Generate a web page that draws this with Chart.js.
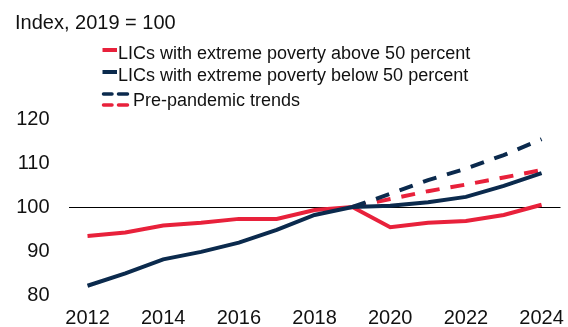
<!DOCTYPE html>
<html>
<head>
<meta charset="utf-8">
<script src="https://cdn.jsdelivr.net/npm/chart.js@4.4.1/dist/chart.umd.min.js"></script>
<style>
  html, body { margin: 0; padding: 0; background: #fff; }
  #wrap { position: relative; width: 568px; height: 327px; }
</style>
</head>
<body>
<div id="wrap"><canvas id="grafico"></canvas></div>
<script>
const anos = ['2012', '2013', '2014', '2015', '2016', '2017', '2018', '2019', '2020', '2021', '2022', '2023', '2024'];

// extreme poverty above 50 percent
const acima50 = [93.4, 94.2, 95.8, 96.4, 97.3, 97.3, 99.3, 100, 95.4, 96.4, 96.8, 98.2, 100.5];
// extreme poverty below 50 percent
const abaixo50 = [82.1, 84.9, 88.1, 89.8, 91.9, 94.8, 98.2, 100, 100.3, 101.1, 102.3, 104.8, 107.7];

// pre-pandemic trends, starting in 2019
const tendAcima = [null, null, null, null, null, null, null, 100, 101.8, 103.6, 105.1, 106.7, 108.4];
const tendAbaixo = [null, null, null, null, null, null, null, 100, 103.0, 106.1, 108.7, 111.8, 115.4];

const rotulos = ['LICs with extreme poverty above 50 percent', 'LICs with extreme poverty below 50 percent', 'Pre-pandemic trends'];
const titulo = 'Index, 2019 = 100';

const vermelho = '#e8213b';
const marinho = '#0b2a4d';
const fonte = '"Liberation Sans", Arial, sans-serif';

// title and legend drawn on top of the canvas
const legendaPlugin = {
    id: 'legendaManual',
    afterDraw(chart) {
        const ctx = chart.ctx;
        ctx.save();
        ctx.fillStyle = '#111';
        ctx.textBaseline = 'alphabetic';
        ctx.font = '20px ' + fonte;
        ctx.fillText(titulo, 15, 29);

        ctx.font = '18px ' + fonte;
        ctx.lineWidth = 4;

        // solid swatches
        [[vermelho, 50, rotulos[0]], [marinho, 72, rotulos[1]]].forEach(([cor, y, txt]) => {
            ctx.strokeStyle = cor;
            ctx.beginPath();
            ctx.moveTo(102.5, y);
            ctx.lineTo(117, y);
            ctx.stroke();
            ctx.fillText(txt, 118, y + 8.5);
        });

        // two dashed swatches stacked
        [[marinho, 94], [vermelho, 105]].forEach(([cor, y]) => {
            ctx.strokeStyle = cor;
            ctx.lineCap = 'round';
            ctx.lineWidth = 3.5;
            ctx.beginPath();
            ctx.moveTo(103.5, y); ctx.lineTo(112, y);
            ctx.moveTo(118.5, y); ctx.lineTo(127.5, y);
            ctx.stroke();
        });
        ctx.fillText(rotulos[2], 133, 106);
        ctx.restore();
    }
};

const linha = (dados, cor, tracejado) => ({
    data: dados,
    borderColor: cor,
    backgroundColor: cor,
    borderWidth: 4,
    borderDash: tracejado ? [14, 11] : [],
    pointRadius: 0,
    tension: 0,
    fill: false
});

new Chart(document.getElementById('grafico'), {
    type: 'line',
    data: {
        labels: anos,
        datasets: [
            linha(abaixo50, marinho, false),
            linha(acima50, vermelho, false),
            linha(tendAbaixo, marinho, true),
            linha(tendAcima, vermelho, true)
        ]
    },
    options: {
        responsive: true,
        maintainAspectRatio: false,
        animation: false,
        layout: { padding: { top: 119, left: 16, right: 7.5, bottom: 0 } },
        plugins: {
            legend: { display: false },
            tooltip: { enabled: false }
        },
        scales: {
            x: {
                type: 'category',
                offset: true,
                border: { display: false },
                grid: { display: false, drawTicks: false },
                afterFit: s => { s.height = 32; s.paddingLeft = 0; s.paddingRight = 0; },
                ticks: {
                    autoSkip: false,
                    maxRotation: 0,
                    padding: 11,
                    color: '#111',
                    font: { family: fonte, size: 20 },
                    callback: function (v) {
                        const ano = this.getLabelForValue(v);
                        return Number(ano) % 2 === 0 ? ano : '';
                    }
                }
            },
            y: {
                min: 80,
                max: 120,
                border: { display: false },
                afterFit: s => { s.width = 52.6; },
                grid: {
                    drawTicks: false,
                    lineWidth: 1,
                    color: ctx => ctx.tick && ctx.tick.value === 100 ? '#000' : 'rgba(0,0,0,0)'
                },
                ticks: {
                    stepSize: 10,
                    padding: 19,
                    color: '#111',
                    font: { family: fonte, size: 20 }
                }
            }
        }
    },
    plugins: [legendaPlugin]
});
</script>
</body>
</html>
